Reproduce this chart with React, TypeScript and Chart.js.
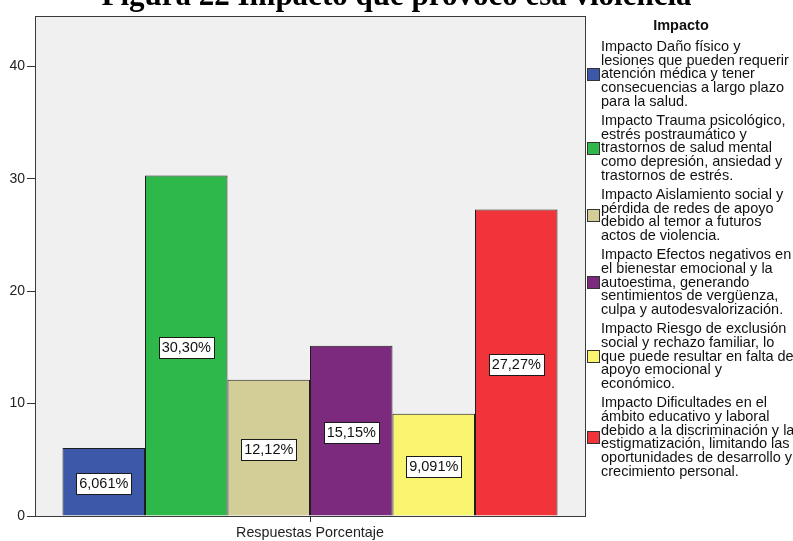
import React, { useEffect, useRef } from 'react';
import { Chart, registerables } from 'chart.js';

Chart.register(...registerables);

const titleText = 'Figura 22 Impacto que provocó esa violencia';
const legendTitle = 'Impacto';
const categories = ['Respuestas Porcentaje'];
const legendLines: string[][] = [
  ['Impacto Daño físico y', 'lesiones que pueden requerir', 'atención médica y tener', 'consecuencias a largo plazo', 'para la salud.'],
  ['Impacto Trauma psicológico,', 'estrés postraumático y', 'trastornos de salud mental', 'como depresión, ansiedad y', 'trastornos de estrés.'],
  ['Impacto Aislamiento social y', 'pérdida de redes de apoyo', 'debido al temor a futuros', 'actos de violencia.'],
  ['Impacto Efectos negativos en', 'el bienestar emocional y la', 'autoestima, generando', 'sentimientos de vergüenza,', 'culpa y autodesvalorización.'],
  ['Impacto Riesgo de exclusión', 'social y rechazo familiar, lo', 'que puede resultar en falta de', 'apoyo emocional y', 'económico.'],
  ['Impacto Dificultades en el', 'ámbito educativo y laboral', 'debido a la discriminación y la', 'estigmatización, limitando las', 'oportunidades de desarrollo y', 'crecimiento personal.'],
];
const seriesValues = [6.061, 30.3, 12.12, 15.15, 9.091, 27.27];
const valueLabels = ['6,061%', '30,30%', '12,12%', '15,15%', '9,091%', '27,27%'];
const seriesColors = ['#3D58A9', '#2EB84A', '#D3CE98', '#7C2A7E', '#F9F56F', '#F1343A'];
const yTickValues = [0, 10, 20, 30, 40];
const yMax = 44.5;

const SANS = '"Liberation Sans", Arial, sans-serif';

const framePlugin = {
  id: 'frameBg',
  beforeDraw(chart: any) {
    const { ctx, chartArea: a } = chart;
    ctx.save();
    ctx.fillStyle = '#FFFFFF';
    ctx.fillRect(0, 0, chart.width, chart.height);
    ctx.fillStyle = '#F0F0F0';
    ctx.fillRect(a.left, a.top, a.right - a.left, a.bottom - a.top);
    ctx.restore();
  },
  afterDatasetsDraw(chart: any) {
    const { ctx, chartArea: a } = chart;
    ctx.save();
    ctx.strokeStyle = '#3a3a3a';
    ctx.lineWidth = 1;
    ctx.strokeRect(Math.round(a.left) + 0.5, Math.round(a.top) + 0.5, Math.round(a.right - a.left), Math.round(a.bottom - a.top));
    ctx.font = `14.5px ${SANS}`;
    ctx.textAlign = 'center';
    ctx.textBaseline = 'middle';
    chart.data.datasets.forEach((ds: any, i: number) => {
      const meta = chart.getDatasetMeta(i);
      meta.data.forEach((el: any) => {
        const cx = el.x;
        const cy = (el.y + el.base) / 2 + 1.5;
        const text = valueLabels[i];
        const tw = ctx.measureText(text).width;
        const w = Math.round(tw + 6);
        const h = 21;
        const x0 = Math.round(cx - w / 2) + 0.5;
        const y0 = Math.round(cy - h / 2) + 0.5;
        ctx.fillStyle = '#FFFFFF';
        ctx.fillRect(x0, y0, w, h);
        ctx.strokeStyle = '#1a1a1a';
        ctx.strokeRect(x0, y0, w, h);
        ctx.fillStyle = '#111';
        ctx.fillText(text, cx, cy + 1);
      });
    });
    ctx.restore();
  },
  afterDraw(chart: any) {
    const { ctx } = chart;
    ctx.save();
    ctx.font = `bold 31px "Liberation Serif", "Times New Roman", serif`;
    ctx.fillStyle = '#000';
    ctx.textAlign = 'center';
    ctx.textBaseline = 'alphabetic';
    ctx.fillText(titleText, chart.width / 2, 5);
    ctx.restore();
  },
};

export default function App() {
  const ref = useRef<HTMLCanvasElement | null>(null);

  useEffect(() => {
    if (!ref.current) return;
    const chart = new Chart(ref.current, {
      type: 'bar',
      data: {
        labels: categories,
        datasets: seriesValues.map((v, i) => ({
          label: legendLines[i].join(' '),
          data: [v],
          backgroundColor: seriesColors[i],
          borderColor: '#1e1e1e',
          borderWidth: 1,
          categoryPercentage: 0.9,
          barPercentage: 1,
        })),
      },
      options: {
        animation: false,
        responsive: false,
        devicePixelRatio: 1,
        layout: { padding: { top: 16, right: 208, left: 0, bottom: 0 } },
        plugins: {
          legend: { display: false },
          tooltip: { enabled: false },
          title: { display: false },
        },
        scales: {
          x: {
            offset: true,
            grid: { offset: false, drawOnChartArea: false, drawTicks: true, tickLength: 6, color: '#333' },
            border: { display: true, color: '#333', width: 1 },
            ticks: { font: { family: SANS, size: 14.3 }, color: '#222', padding: 2 },
            afterFit(scale: any) { scale.height = 25; },
          },
          y: {
            min: 0,
            max: yMax,
            grid: { drawOnChartArea: false, drawTicks: true, tickLength: 8, color: '#333' },
            border: { display: true, color: '#333', width: 1 },
            ticks: { font: { family: SANS, size: 14 }, color: '#222', padding: 2 },
            afterBuildTicks(scale: any) { scale.ticks = yTickValues.map((v) => ({ value: v })); },
            afterFit(scale: any) { scale.width = 35; },
          },
        },
      },
      plugins: [framePlugin],
    });
    return () => chart.destroy();
  }, []);

  let top = 40;
  const items = legendLines.map((lines, i) => {
    const el = (
      <div key={i} style={{ position: 'absolute', left: 0, top, display: 'flex', alignItems: 'center' }}>
        <div style={{ width: 11, height: 11, background: seriesColors[i], border: '1px solid #333', flex: 'none' }} />
        <div style={{ marginLeft: 1, lineHeight: '13.7px', whiteSpace: 'nowrap' }}>
          {lines.map((l, j) => <div key={j}>{l}</div>)}
        </div>
      </div>
    );
    top += lines.length * 13.7 + 5.5;
    return el;
  });

  return (
    <div style={{ position: 'fixed', left: 0, top: 0, width: 793, height: 541, overflow: 'hidden', background: '#fff' }}>
      <canvas ref={ref} width={793} height={541} style={{ position: 'absolute', left: 0, top: 0, width: 793, height: 541 }} />
      <div style={{ position: 'absolute', left: 587, top: 0, width: 206, height: 541, overflow: 'hidden', fontFamily: SANS, fontSize: '14.5px', color: '#111' }}>
        <div style={{ position: 'absolute', left: 14, width: 160, top: 17, textAlign: 'center', fontWeight: 'bold', lineHeight: '16px' }}>{legendTitle}</div>
        {items}
      </div>
    </div>
  );
}
